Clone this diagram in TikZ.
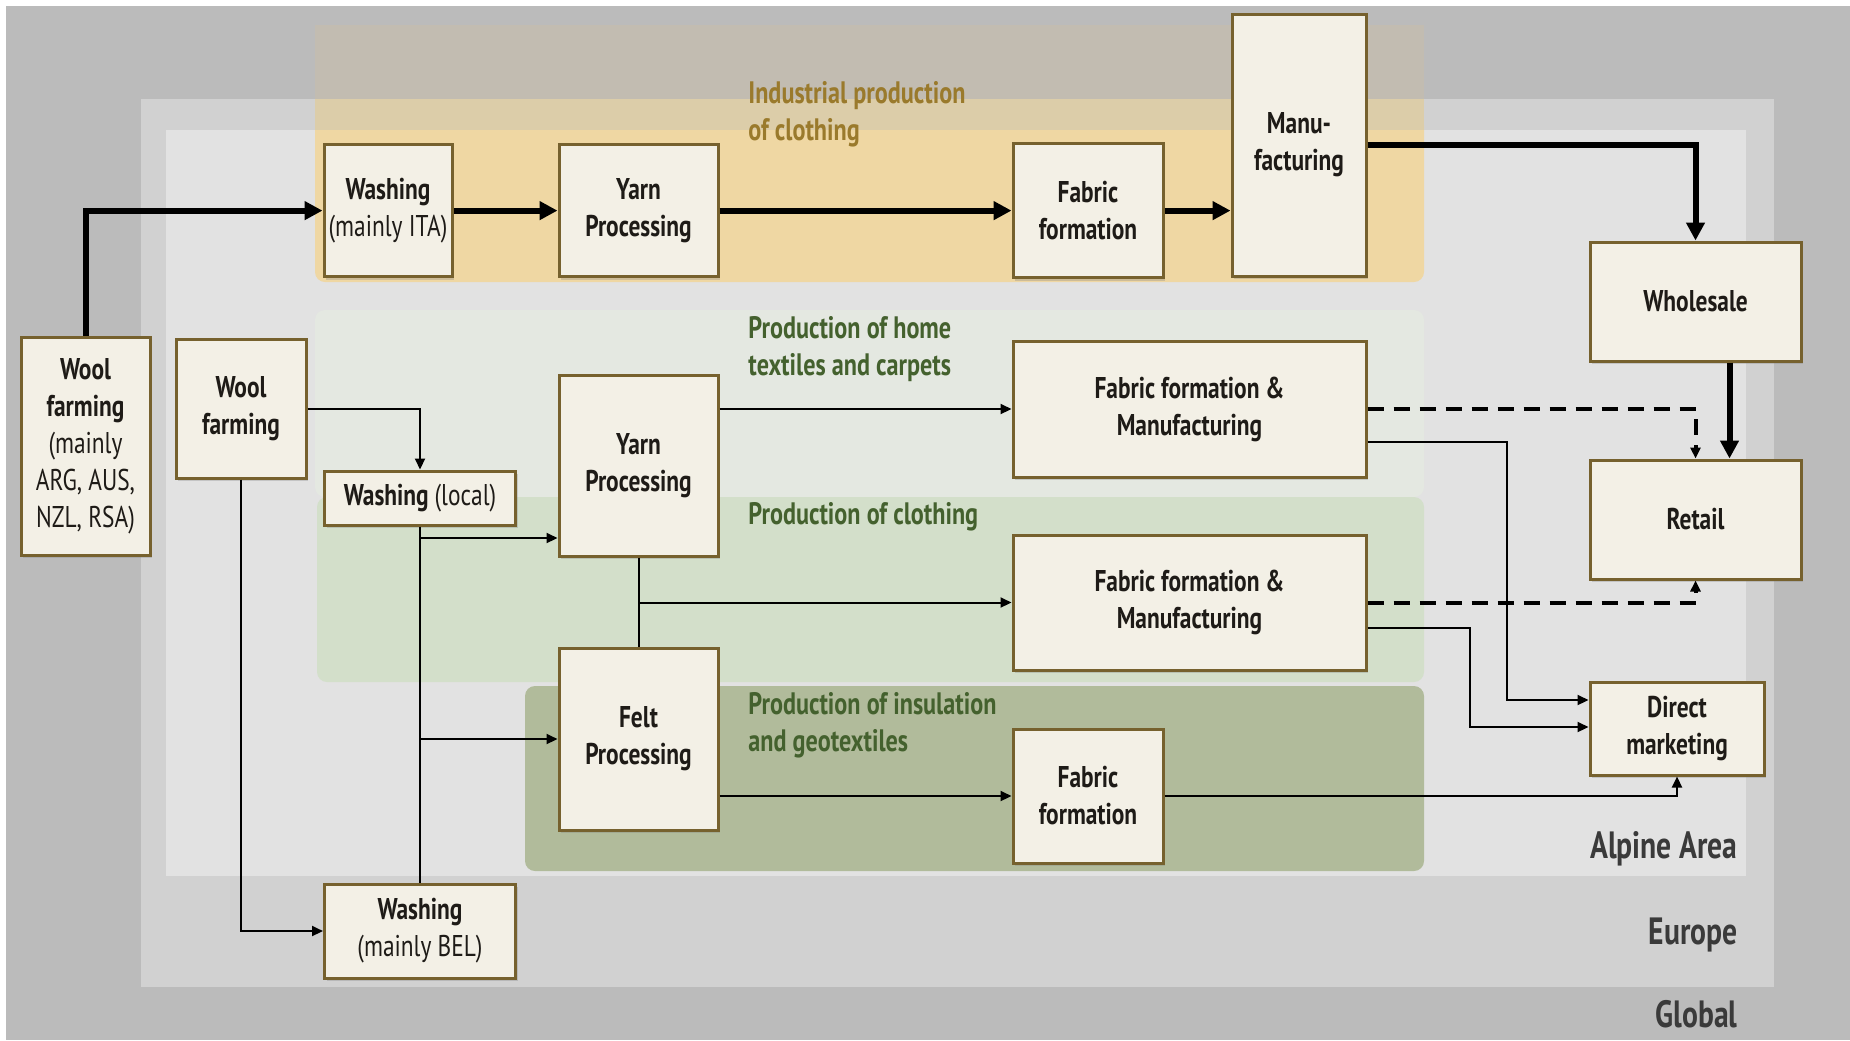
\documentclass[tikz,border=0pt]{standalone}
\usepackage{fontspec}
\setmainfont{PT Sans}[FakeStretch=0.78]
\usepackage{xcolor}
\usetikzlibrary{arrows.meta,shadows}
\definecolor{globalgrey}{HTML}{BBBBBB}
\definecolor{europegrey}{HTML}{D1D1D1}
\definecolor{alpinegrey}{HTML}{E2E2E2}
\definecolor{indtop}{HTML}{C2BCB1}
\definecolor{indmid}{HTML}{DCCDA9}
\definecolor{indband}{HTML}{EFD7A3}
\definecolor{homeband}{HTML}{E4E8E1}
\definecolor{clothband}{HTML}{D3DFCA}
\definecolor{insulband}{HTML}{B1BB9B}
\definecolor{boxfill}{HTML}{F3F0E6}
\definecolor{boxedge}{HTML}{76612E}
\definecolor{boxtext}{HTML}{1E1B17}
\definecolor{indtext}{HTML}{9A7A2C}
\definecolor{bandtext}{HTML}{44612E}
\definecolor{areatext}{HTML}{3A3A3A}

\begin{document}
\begin{tikzpicture}[x=0.5pt, y=-0.5pt,
    box/.style={draw=boxedge, fill=boxfill, line width=1.5pt, align=center, inner sep=0pt,
        text=boxtext, font=\bfseries\fontsize{15}{18.5}\selectfont,
        drop shadow={shadow xshift=1pt, shadow yshift=-1.5pt, opacity=0.3}},
    band/.style={anchor=north west, align=left, inner sep=0pt, text=bandtext,
        font=\bfseries\fontsize{15.5}{18.5}\selectfont},
    area/.style={anchor=base east, inner sep=0pt, text=areatext,
        font=\bfseries\fontsize{19}{22}\selectfont},
    bold/.style={line width=3pt, -{Triangle[length=9pt,width=9pt]}},
    thin/.style={line width=1pt, -{Triangle[length=5.5pt,width=5pt]}},
    plain/.style={line width=1pt},
    dashline/.style={line width=2pt, dash pattern=on 8pt off 5pt, -{Triangle[length=5.5pt,width=5pt]}}]
    \useasboundingbox (0,0) rectangle (1850,1040);
    \fill[white] (0,0) rectangle (1850,1040);
    \fill[globalgrey] (6,6) rectangle (1850,1040);
    \fill[europegrey] (141,99) rectangle (1774,987);
    \fill[alpinegrey] (166,130) rectangle (1746,876);
    \fill[indtop] (315,25) rectangle (1424,99);
    \fill[indband, rounded corners=5pt] (315,115) rectangle (1424,282);
    \fill[indmid] (315,99) rectangle (1424,130);
    \fill[homeband, rounded corners=5pt] (315,310) rectangle (1424,497);
    \fill[clothband, rounded corners=5pt] (317,497) rectangle (1424,682);
    \fill[insulband, rounded corners=5pt] (525,686) rectangle (1424,871);

    \node[band, text=indtext] (IndLabel) at (748,81) {Industrial production\\of clothing};
    \node[band] (HomeLabel) at (748,316) {Production of home\\textiles and carpets};
    \node[band] (ClothLabel) at (748,502) {Production of clothing};
    \node[band] (InsulLabel) at (748,692) {Production of insulation\\and geotextiles};
    \node[area] (Alpine) at (1738,858) {Alpine Area};
    \node[area] (Europe) at (1738,944) {Europe};
    \node[area] (Global) at (1738,1027) {Global};

    \node[box, minimum width=64.5pt, minimum height=109pt] (WoolG) at (85.5,446) {Wool\\farming\\\mdseries(mainly\\\mdseries ARG, AUS,\\\mdseries NZL, RSA)};
    \node[box, minimum width=65pt, minimum height=69.5pt] (WoolA) at (241,408.5) {Wool\\farming};
    \node[box, minimum width=64pt, minimum height=66pt] (WashI) at (388,210.6) {Washing\\\mdseries(mainly ITA)};
    \node[box, minimum width=79.5pt, minimum height=66pt] (YarnI) at (638.5,210.6) {Yarn\\Processing};
    \node[box, minimum width=75pt, minimum height=67pt] (FabI) at (1088,210.6) {Fabric\\formation};
    \node[box, minimum width=67pt, minimum height=131pt] (Manu) at (1299,145) {Manu-\\facturing};
    \node[box, minimum width=105.5pt, minimum height=59.5pt] (Wholesale) at (1695.5,301.5) {Wholesale};
    \node[box, minimum width=105.5pt, minimum height=59.5pt] (Retail) at (1695.5,519.5) {Retail};
    \node[box, minimum width=176.5pt, minimum height=68pt] (FabM1) at (1189.5,409) {Fabric formation \&\\Manufacturing};
    \node[box, minimum width=176.5pt, minimum height=67.5pt] (FabM2) at (1189.5,602.5) {Fabric formation \&\\Manufacturing};
    \node[box, minimum width=87pt, minimum height=46.5pt] (DirectM) at (1677,728.5) {Direct\\marketing};
    \node[box, minimum width=75pt, minimum height=67pt] (FabF) at (1088,796) {Fabric\\formation};
    \node[box, minimum width=79.5pt, minimum height=91pt] (Felt) at (638.5,739) {Felt\\Processing};
    \node[box, minimum width=79.5pt, minimum height=90.5pt] (YarnA) at (638.5,465.5) {Yarn\\Processing};
    \node[box, minimum width=95.5pt, minimum height=27pt] (WashL) at (420,498) {Washing \mdseries(local)};
    \node[box, minimum width=95.5pt, minimum height=47pt] (WashB) at (420,931) {Washing\\\mdseries(mainly BEL)};

    \coordinate (JYarn) at (420,538);
    \coordinate (BendA) at (1507,700);
    \coordinate (BendB) at (1469.5,727);

    \draw[bold] (WoolG.north) |- (WashI.west);
    \draw[bold] (WashI) -- (YarnI);
    \draw[bold] (YarnI) -- (FabI);
    \draw[bold] (FabI) -- (Manu.west |- FabI);
    \draw[bold] (Manu.east) -| (Wholesale.north);
    \draw[bold] ([xshift=17pt]Wholesale.south) -- ([xshift=17pt]Retail.north);

    \draw[thin] (WoolA.east) -| (WashL.north);
    \draw[thin] (WoolA.south) |- (WashB.west);
    \draw[plain] (WashL.south) -- (WashB.north);
    \draw[thin] (JYarn) -- (JYarn -| YarnA.west);
    \draw[thin] (WashL.south |- Felt.west) -- (Felt.west);
    \draw[thin] (YarnA.east |- FabM1.west) -- (FabM1.west);
    \draw[plain] (YarnA.south) -- (Felt.north);
    \draw[thin] (YarnA.south |- FabM2.west) -- (FabM2.west);
    \draw[thin] (Felt.east |- FabF.west) -- (FabF.west);
    \draw[thin] (FabF.east) -| (DirectM.south);
    \draw[thin] ([yshift=-16.3pt]FabM1.east) -| (BendA) -- (BendA -| DirectM.west);
    \draw[thin] ([yshift=-12.5pt]FabM2.east) -| (BendB) -- (BendB -| DirectM.west);
    \draw[dashline] (FabM1.east) -| (Retail.north);
    \draw[dashline] (FabM2.east) -| (Retail.south);
\end{tikzpicture}
\end{document}
